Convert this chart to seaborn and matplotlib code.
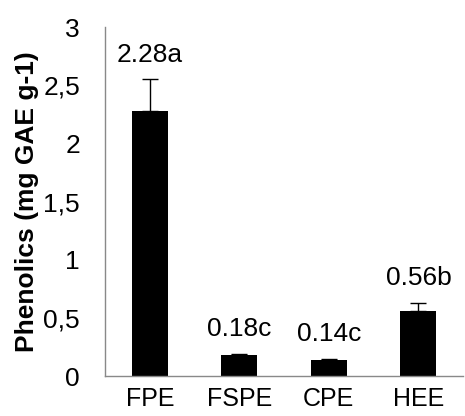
import pandas as pd
import matplotlib
matplotlib.use('Agg')
import matplotlib.pyplot as plt
import seaborn as sns
import numpy as np
from matplotlib.ticker import FuncFormatter, FixedLocator

extracts = ['FPE', 'FSPE', 'CPE', 'HEE']
phenolics = [2.28, 0.18, 0.14, 0.56]
errors = [0.27, 0.01, 0.01, 0.07]
letters = ['a', 'c', 'c', 'b']

df = pd.DataFrame({'extract': extracts, 'phenolics': phenolics})

sns.set_style('white')
plt.rcParams['font.family'] = ['Liberation Sans', 'DejaVu Sans']
plt.rcParams['text.color'] = 'black'
plt.rcParams['axes.labelcolor'] = 'black'
plt.rcParams['xtick.labelcolor'] = 'black'
plt.rcParams['ytick.labelcolor'] = 'black'

fig = plt.figure(figsize=(4.65, 4.16), dpi=100)
ax = fig.add_axes([0.226, 0.096, 0.77, 0.839])

sns.barplot(data=df, x='extract', y='phenolics', color='black', width=0.4,
            saturation=1, errorbar=None, linewidth=0, ax=ax)
ax.errorbar(range(len(extracts)), phenolics, yerr=[np.zeros(len(errors)), errors],
            fmt='none', ecolor='black', elinewidth=1, capsize=6, capthick=1, zorder=5)

for i, (v, e, l) in enumerate(zip(phenolics, errors, letters)):
    ax.text(i, v + e + 0.11, f'{v:.2f}{l}', ha='center', va='bottom', fontsize=19)

ax.set_ylim(0, 3)
ax.set_xlim(-0.5, 3.5)
ax.set_yticks(np.arange(0, 3.01, 0.5))
ax.yaxis.set_major_formatter(FuncFormatter(lambda v, p: f'{v:g}'.replace('.', ',')))
ax.xaxis.set_minor_locator(FixedLocator([-0.5, 0.5, 1.5, 2.5, 3.5]))
ax.tick_params(axis='x', which='major', length=0, pad=8, labelsize=18)
ax.tick_params(axis='x', which='minor', length=7, width=1, color='#898989', direction='out')
ax.tick_params(axis='y', length=7, width=1, color='#898989', direction='out', labelsize=19, pad=11)

for s in ['top', 'right']:
    ax.spines[s].set_visible(False)
for s in ['left', 'bottom']:
    ax.spines[s].set_color('#898989')
    ax.spines[s].set_linewidth(1)

ax.set_xlabel('')
ax.set_ylabel('Phenolics (mg GAE g-1)', fontsize=19, fontweight='bold', labelpad=3)

fig.savefig('out.png')
